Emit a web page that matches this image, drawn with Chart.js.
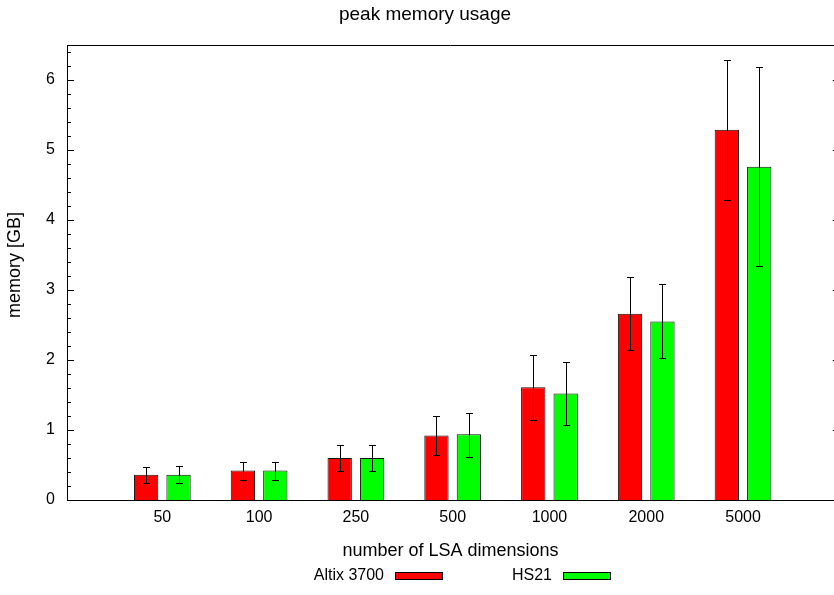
<!DOCTYPE html>
<html><head><meta charset="utf-8">
<script src="https://cdn.jsdelivr.net/npm/chart.js@4.4.1/dist/chart.umd.min.js"></script>
<style>html,body{margin:0;padding:0;background:#fff;overflow:hidden}#wrap{width:834px;height:595px;position:relative}</style>
</head><body><div id="wrap"><canvas id="c" width="834" height="595"></canvas></div>
<script>
const categories = ['50', '100', '250', '500', '1000', '2000', '5000'];
const seriesNames = ['Altix 3700', 'HS21'];
const altix     = [0.36, 0.42, 0.60, 0.92, 1.61, 2.66, 5.29];
const altixLow  = [0.25, 0.29, 0.42, 0.64, 1.15, 2.15, 4.28];
const altixHigh = [0.47, 0.55, 0.78, 1.20, 2.07, 3.18, 6.28];
const hs21      = [0.36, 0.42, 0.60, 0.94, 1.52, 2.55, 4.76];
const hs21Low   = [0.24, 0.29, 0.42, 0.62, 1.07, 2.03, 3.34];
const hs21High  = [0.48, 0.55, 0.78, 1.24, 1.97, 3.08, 6.19];
const yTicks = [0, 1, 2, 3, 4, 5, 6];
const chartTitle = 'peak memory usage';
const xTitle = 'number of LSA dimensions';
const yTitle = 'memory [GB]';

const FAMILY = '"Liberation Sans", Arial, Helvetica, sans-serif';
const FONT = {family: FAMILY, size: 16};
const TFONT = {family: FAMILY, size: 18};
Chart.defaults.font.family = FAMILY;
Chart.defaults.color = '#000';

const toPts = arr => arr.map((v, i) => ({x: i, y: v}));

const decor = {
  id: 'decor',
  afterDatasetsDraw(chart) {
    const ctx = chart.ctx, ys = chart.scales.y;
    ctx.save();
    ctx.strokeStyle = '#000';
    ctx.lineWidth = 1;
    chart.data.datasets.forEach((ds, d) => {
      const meta = chart.getDatasetMeta(d);
      meta.data.forEach((bar, i) => {
        const x = Math.round(bar.x) + 0.5;
        const y1 = Math.round(ys.getPixelForValue(ds.low[i])) + 0.5;
        const y2 = Math.round(ys.getPixelForValue(ds.high[i])) + 0.5;
        ctx.beginPath();
        ctx.moveTo(x, y1); ctx.lineTo(x, y2);
        ctx.moveTo(x - 3.5, y1); ctx.lineTo(x + 3.5, y1);
        ctx.moveTo(x - 3.5, y2); ctx.lineTo(x + 3.5, y2);
        ctx.stroke();
      });
    });
    ctx.restore();
  },
  afterDraw(chart) {
    const ctx = chart.ctx, a = chart.chartArea, ys = chart.scales.y, xs = chart.scales.x;
    ctx.save();
    ctx.strokeStyle = '#000';
    ctx.lineWidth = 1;
    ctx.beginPath();
    ctx.moveTo(a.left, Math.round(a.top) + 0.5);
    ctx.lineTo(a.right, Math.round(a.top) + 0.5);
    ctx.stroke();
    const rightEdge = xs.getPixelForValue(categories.length);
    ctx.beginPath();
    yTicks.forEach((v, k) => {
      const y = Math.round(ys.getPixelForValue(v)) + 0.5;
      if (v !== 0) {
        ctx.moveTo(a.left, y); ctx.lineTo(a.left + 7, y);
        ctx.moveTo(rightEdge - 7, y); ctx.lineTo(rightEdge, y);
      }
      const step = k < yTicks.length - 1 ? (yTicks[k + 1] - v) : (yTicks[1] - yTicks[0]);
      for (let m = 1; m < 5; m++) {
        const mv = v + step * m / 5;
        if (mv > ys.max) break;
        const my = Math.round(ys.getPixelForValue(mv)) + 0.5;
        ctx.moveTo(a.left, my); ctx.lineTo(a.left + 4, my);
      }
    });
    ctx.stroke();
    ctx.fillStyle = '#000';
    ctx.font = '19px ' + FAMILY;
    ctx.textAlign = 'center';
    ctx.textBaseline = 'middle';
    ctx.fillText(chartTitle, 425, 15);
    // y-axis title
    ctx.font = '18px ' + FAMILY;
    ctx.save();
    ctx.translate(15, 265);
    ctx.rotate(-Math.PI / 2);
    ctx.fillText(yTitle, 0, 0);
    ctx.restore();
    // legend
    ctx.font = '16px ' + FAMILY;
    ctx.textAlign = 'right';
    chart.data.datasets.forEach((ds, d) => {
      const tr = 384 + 168 * d;
      ctx.fillStyle = '#000';
      ctx.fillText(ds.label, tr, 576);
      ctx.fillStyle = ds.backgroundColor;
      ctx.fillRect(tr + 11, 572, 48, 8);
      ctx.strokeRect(tr + 11.5, 572.5, 47, 7);
    });
    ctx.restore();
  }
};

new Chart(document.getElementById('c'), {
  type: 'bar',
  data: {
    datasets: [
      {label: seriesNames[0], data: toPts(altix), low: altixLow, high: altixHigh,
       backgroundColor: '#ff0000', borderColor: '#111', borderWidth: 1},
      {label: seriesNames[1], data: toPts(hs21), low: hs21Low, high: hs21High,
       backgroundColor: '#00ff00', borderColor: '#111', borderWidth: 1}
    ]
  },
  options: {
    animation: false,
    responsive: false,
    categoryPercentage: 0.67,
    barPercentage: 0.75,
    layout: {padding: {top: 45, left: 0, right: 0, bottom: 0}},
    plugins: {legend: {display: false}, title: {display: false}, tooltip: {enabled: false}},
    scales: {
      x: {
        type: 'linear', min: -0.985, max: 6.94, offset: false,
        grid: {display: false, drawTicks: false},
        border: {display: true, color: '#000', width: 1},
        afterBuildTicks: s => { s.ticks = categories.map((_, i) => ({value: i})); },
        ticks: {padding: 8, autoSkip: false, maxRotation: 0, font: FONT, color: '#000',
                callback: v => categories[v]},
        title: {display: true, text: xTitle, font: TFONT, color: '#000', padding: {top: 0, bottom: 33}},
        afterFit: s => { s.height = 95; }
      },
      y: {
        min: 0, max: 6.5,
        grid: {display: false, drawTicks: false},
        border: {display: true, color: '#000', width: 1},
        afterBuildTicks: s => { s.ticks = yTicks.map(v => ({value: v})); },
        ticks: {padding: 12, font: FONT, color: '#000'},
        title: {display: false, text: yTitle},
        afterFit: s => { s.width = 67; }
      }
    }
  },
  plugins: [decor]
});
</script></body></html>
